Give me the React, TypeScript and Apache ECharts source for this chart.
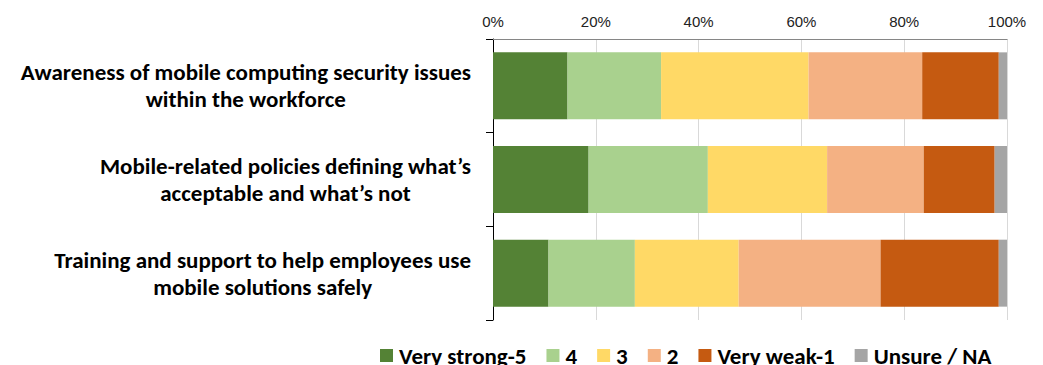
import React, { useEffect, useRef } from "react";
import * as echarts from "echarts";

const categories = [
  "Awareness of mobile computing security issues\nwithin the workforce",
  "Mobile-related policies defining what’s\nacceptable and what’s not",
  "Training and support to help employees use\nmobile solutions safely",
];
const seriesNames = ["Very strong-5", "4", "3", "2", "Very weak-1", "Unsure / NA"];
const seriesColors = ["#548235", "#A9D18E", "#FFD966", "#F4B183", "#C55A11", "#A5A5A5"];
const veryStrong = [14.5, 18.6, 10.8];
const four = [18.2, 23.2, 16.8];
const three = [28.7, 23.2, 20.2];
const two = [22.1, 18.8, 27.6];
const veryWeak = [14.9, 13.8, 23.0];
const unsure = [1.6, 2.4, 1.6];
const seriesValues = [veryStrong, four, three, two, veryWeak, unsure];

const LABEL_FONT = "Carlito, Lato, 'Open Sans', sans-serif";

export default function App() {
  const ref = useRef<HTMLDivElement>(null);
  useEffect(() => {
    document.body.style.margin = "0";
    if (!ref.current) return;
    const chart = echarts.init(ref.current, null, { renderer: "svg" });
    chart.setOption({
      animation: false,
      backgroundColor: "#fff",
      grid: { left: 493, right: 36, top: 39, bottom: 45, containLabel: false },
      xAxis: {
        type: "value",
        position: "top",
        min: 0,
        max: 100,
        interval: 20,
        axisLine: { show: true, lineStyle: { color: "#868686", width: 1 } },
        axisTick: { show: false },
        splitLine: { show: true, lineStyle: { color: "#D9D9D9", width: 1 } },
        axisLabel: {
          formatter: "{value}%",
          color: "#222",
          fontSize: 15,
          fontFamily: "'Liberation Sans', Arial, sans-serif",
          margin: 10,
        },
      },
      yAxis: {
        type: "category",
        inverse: true,
        data: categories,
        axisLine: { show: true, lineStyle: { color: "#000", width: 1 } },
        axisTick: { show: true, length: 7, lineStyle: { color: "#000" } },
        splitLine: { show: false },
        axisLabel: {
          margin: 22,
          formatter: (v: string) =>
            v
              .split("\n")
              .map((l) => `{c|${l}}`)
              .join("\n"),
          rich: {
            c: {
              fontFamily: LABEL_FONT,
              fontWeight: "bold",
              fontSize: 23,
              lineHeight: 27,
              align: "center",
              color: "#000",
            },
          },
        },
      },
      legend: {
        left: 375,
        top: 339,
        itemWidth: 13,
        itemHeight: 13,
        itemGap: 20,
        icon: "rect",
        textStyle: {
          fontFamily: LABEL_FONT,
          fontWeight: "bold",
          fontSize: 23,
          color: "#000",
          padding: [0, 0, 0, 1],
        },
        data: seriesNames,
      },
      series: seriesNames.map((name, i) => ({
        name,
        type: "bar",
        stack: "total",
        barWidth: "71.5%",
        itemStyle: { color: seriesColors[i] },
        data: seriesValues[i],
      })),
    });
    return () => chart.dispose();
  }, []);
  return <div ref={ref} style={{ width: 1043, height: 365 }} />;
}
